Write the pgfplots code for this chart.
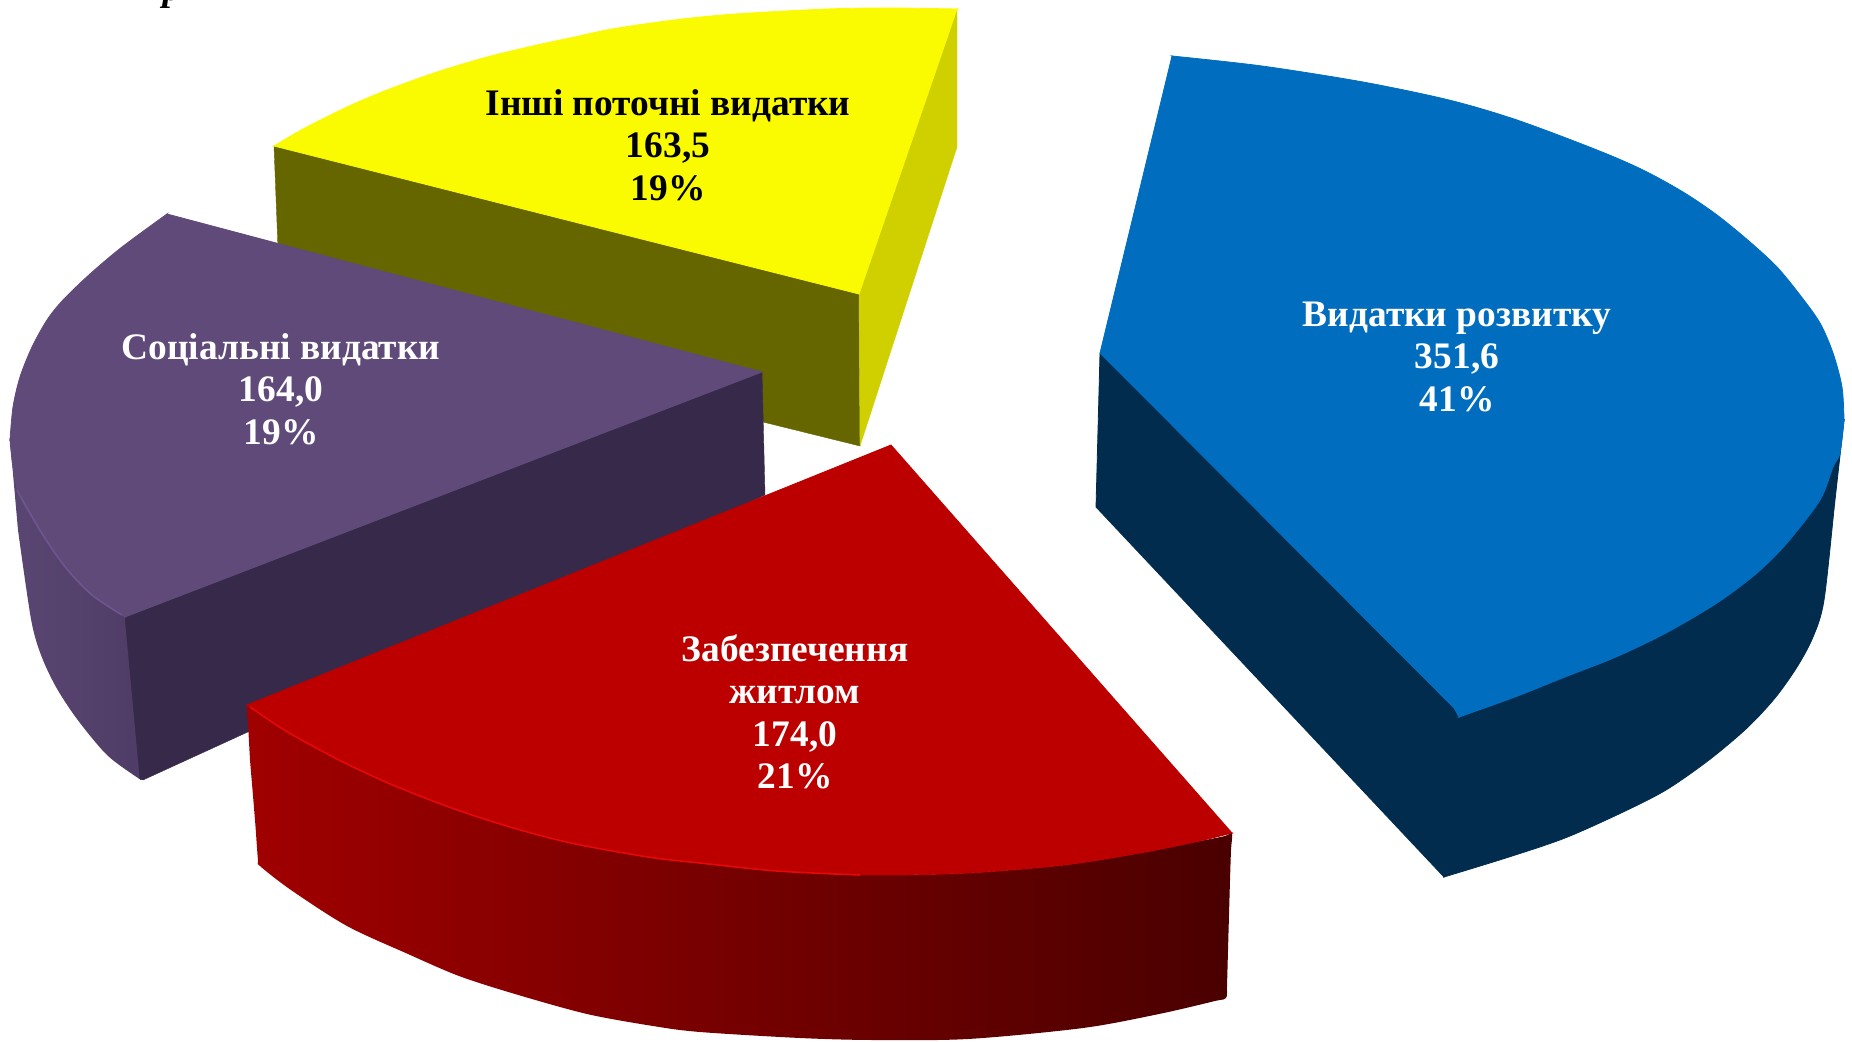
\documentclass[border=0pt]{standalone}
\usepackage{pgfplots}
\pgfplotsset{compat=1.18}
\usepackage{fontspec}
\setmainfont{Liberation Serif}
\definecolor{yTop}{HTML}{FAFA00}
\definecolor{yRight}{HTML}{D0D000}
\definecolor{yFace}{HTML}{666600}
\definecolor{pTop}{HTML}{5F4A7A}
\definecolor{pFace}{HTML}{37294A}
\definecolor{pL}{HTML}{5A4672}
\definecolor{pR}{HTML}{4F3C66}
\definecolor{pEdge}{HTML}{6E5590}
\definecolor{bTop}{HTML}{016DBF}
\definecolor{bSide}{HTML}{012C4E}
\definecolor{rTop}{HTML}{BC0000}
\definecolor{rEdge}{HTML}{E40808}
\definecolor{rL}{HTML}{A00000}
\definecolor{rM}{HTML}{7A0000}
\definecolor{rR}{HTML}{4A0000}
\tikzset{lab/.style={font=\fontsize{18.7}{21.25}\selectfont\bfseries, align=center, inner sep=0pt}}
\begin{document}
\begin{tikzpicture}
\begin{axis}[
  scale only axis, width=926pt, height=521pt,
  xmin=0, xmax=1852, ymin=0, ymax=1042, y dir=reverse,
  axis lines=none, clip=true
]
\path (axis cs:0,0) rectangle (axis cs:1852,1042);
% yellow slice
\addplot[fill=yFace, draw=yFace, line width=0.2pt] coordinates {(274,146) (859,294) (860,446) (763,422) (280,300)} --cycle;
\addplot[fill=yRight, draw=yRight, line width=0.2pt] coordinates {(957,9) (957,147) (860,446) (859,294)} --cycle;
\addplot[fill=yTop, draw=yTop, line width=0.4pt] coordinates {(274,146) (957,9) (859,294)} --cycle;
\addplot[smooth, fill=yTop, draw=yTop, line width=0.4pt] coordinates {(274,146) (303,129) (347,107) (387,90) (437,72) (487,57) (537,45) (570,38) (612,29) (674,20) (735,14) (827,9) (888,8) (957,9)} --cycle;
% purple slice
\addplot[smooth, left color=pL, right color=pR, draw=none] coordinates {(10,440) (13,467) (20,497) (41,532) (66,568) (92,595) (125,617) (130,650) (135,700) (140,770) (141,779) (138,778) (107,755) (77,719) (56,687) (41,655) (31,619) (18,530)} --cycle;
\addplot[fill=pFace, draw=pFace, line width=0.2pt] coordinates {(125,617) (762,372) (765,495) (143,780) (140,779)} --cycle;
\addplot[fill=pTop, draw=pTop, line width=0.4pt] coordinates {(167,214) (10,440) (125,617) (762,372)} --cycle;
\addplot[smooth, fill=pTop, draw=pTop, line width=0.4pt] coordinates {(167,214) (122,247) (90,274) (63,300) (47,320) (32,347) (20,377) (13,407) (10,440)} --cycle;
\addplot[smooth, fill=pTop, draw=pTop, line width=0.4pt] coordinates {(10,440) (13,467) (20,497) (41,532) (66,568) (92,595) (125,617)} --cycle;
\addplot[smooth, draw=pEdge, line width=0.8pt] coordinates {(17,490) (41,532) (66,568) (92,595) (122,615)};
% blue slice
\addplot[fill=bSide, draw=bSide, line width=0.4pt] coordinates {(1100,353) (1096,507) (1444,877) (1844,420)} --cycle;
\addplot[smooth, fill=bSide, draw=bSide, line width=0.4pt] coordinates {(1444,877) (1509,857) (1565,838) (1621,813) (1666,790) (1709,760) (1747,728) (1775,698) (1797,667) (1813,637) (1824,600) (1835,500) (1844,420)} --cycle;
\addplot[fill=bTop, draw=bTop, line width=0.4pt] coordinates {(1172,56) (1844,420) (1459,717) (1454,708) (1100,353)} --cycle;
\addplot[smooth, fill=bTop, draw=bTop, line width=0.4pt] coordinates {(1172,56) (1262,66) (1363,82) (1449,100) (1517,120) (1597,150) (1643,170) (1683,192) (1717,215) (1750,242) (1777,267) (1800,295) (1820,323) (1833,353) (1842,387) (1844,420)} --cycle;
\addplot[smooth, fill=bTop, draw=bTop, line width=0.4pt] coordinates {(1844,420) (1840,453) (1833,467) (1820,500) (1787,543) (1757,573) (1717,603) (1666,633) (1616,657) (1565,677) (1515,697) (1459,717)} --cycle;
% red slice
\addplot[smooth, left color=rL, middle color=rM, right color=rR, draw=none] coordinates {(247,705) (286,731) (337,759) (388,783) (449,807) (510,827) (571,843) (648,857) (700,863) (777,871) (872,875) (968,873) (1064,865) (1140,853) (1195,842) (1225,836) (1232,833) (1231,850) (1230,880) (1228,950) (1227,985) (1226,998) (1215,1001) (1159,1014) (1083,1028) (968,1039) (872,1040) (800,1038) (700,1032) (653,1026) (587,1014) (515,994) (459,976) (408,954) (347,926) (291,890) (260,866) (258,860) (255,820) (250,760)} --cycle;
\addplot[fill=rTop, draw=rTop, line width=0.4pt] coordinates {(891,445) (247,705) (1232,833)} --cycle;
\addplot[smooth, fill=rTop, draw=rTop, line width=0.4pt] coordinates {(247,705) (286,731) (337,759) (388,783) (449,807) (510,827) (571,843) (648,857) (700,863) (777,871) (872,875) (968,873) (1064,865) (1140,853) (1195,842) (1232,833)} --cycle;
\addplot[smooth, draw=rEdge, line width=0.8pt] coordinates {(250,707) (286,731) (337,759) (388,783) (449,807) (510,827) (571,843) (648,857) (700,863) (777,871) (860,875)};
% labels
\node[lab, text=black] at (axis cs:668,145) {Інші поточні видатки\\163,5\\19\%};
\node[lab, text=white] at (axis cs:281,389) {Соціальні видатки\\164,0\\19\%};
\node[lab, text=white] at (axis cs:1457,357) {Видатки розвитку\\351,6\\41\%};
\node[lab, text=white] at (axis cs:795,712) {Забезпечення\\житлом\\174,0\\21\%};
\node[overlay, anchor=base, inner sep=0pt, text=black, font=\fontsize{18.7}{21.25}\selectfont\bfseries\itshape] at (axis cs:172,1) {р};
\end{axis}
\end{tikzpicture}
\end{document}
